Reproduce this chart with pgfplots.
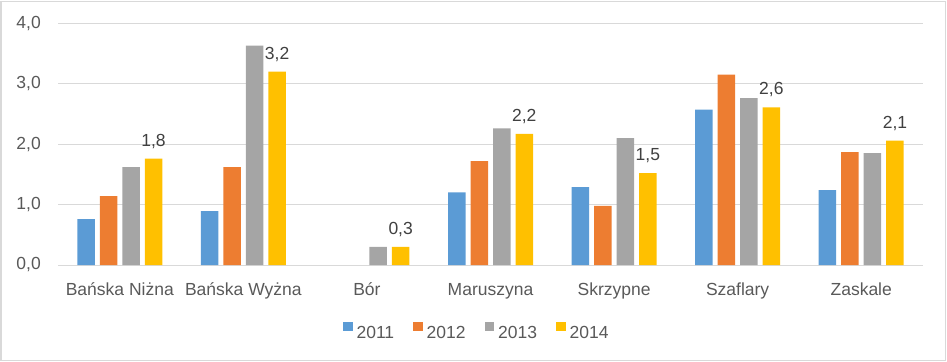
\documentclass[border=0pt]{standalone}
\usepackage{fontspec}
\setmainfont{Liberation Sans}
\usepackage{pgfplots}
\pgfplotsset{compat=1.18}
\definecolor{c11}{HTML}{5B9BD5}
\definecolor{c12}{HTML}{ED7D31}
\definecolor{c13}{HTML}{A5A5A5}
\definecolor{c14}{HTML}{FFC000}
\definecolor{gridc}{HTML}{D9D9D9}
\definecolor{txt}{HTML}{595959}
\definecolor{lbl}{HTML}{404040}
\begin{document}
\begin{tikzpicture}[font=\fontsize{17.5bp}{21bp}\selectfont]
\begin{axis}[
  at={(0,0)}, anchor=south west,
  scale only axis, width=865bp, height=241.7bp,
  xmin=-0.5, xmax=6.5, ymin=0, ymax=4,
  ybar=5bp, bar width=17.5bp,
  xtick={0,1,2,3,4,5,6},
  xticklabels={Bańska Niżna, Bańska Wyżna, Bór, Maruszyna, Skrzypne, Szaflary, Zaskale},
  ytick={0,1,2,3,4},
  ymajorgrids, major grid style={gridc, line width=0.75bp},
  axis line style={draw=none},
  major tick length=0pt,
  tick label style={text=txt},
  /pgf/number format/use comma,
  /pgf/number format/fixed,
  /pgf/number format/fixed zerofill,
  /pgf/number format/precision=1,
  /pgf/number format/assume math mode=true,
  yticklabel style={anchor=east, inner sep=0pt, xshift=-17bp},
  xticklabel style={anchor=north, inner sep=0pt, text height=12.5bp, text depth=4bp, yshift=-18bp},
  legend columns=4,
  legend image code/.code={\fill[#1] (0bp,1.5bp) rectangle (9.5bp,11bp);},
  legend style={draw=none, fill=none, at={(0.483,-0.2727)}, anchor=center,
    nodes={inner sep=0pt, text=txt},
    /tikz/every odd column/.append style={column sep=4bp},
    /tikz/every even column/.append style={column sep=19bp}},
]
\addplot[fill=c11, draw=none] coordinates {(0,0.76) (1,0.89) (3,1.20) (4,1.29) (5,2.57) (6,1.24)};
\addplot[fill=c12, draw=none] coordinates {(0,1.14) (1,1.62) (3,1.72) (4,0.98) (5,3.15) (6,1.87)};
\addplot[fill=c13, draw=none] coordinates {(0,1.62) (1,3.63) (2,0.30) (3,2.26) (4,2.10) (5,2.76) (6,1.85)};
\addplot[fill=c14, draw=none, nodes near coords,
  every node near coord/.append style={anchor=base, inner sep=0pt, yshift=12.5bp, text=lbl}]
  coordinates {(0,1.76) (1,3.20) (2,0.30) (3,2.17) (4,1.52) (5,2.61) (6,2.06)};
\legend{2011,2012,2013,2014}
\end{axis}
\draw[gridc, line width=1.5bp] (-57bp,-95.5bp) rectangle (887.5bp,263.5bp);
\pgfresetboundingbox
\useasboundingbox (-58bp,-97bp) rectangle (889bp,265bp);
\end{tikzpicture}
\end{document}
